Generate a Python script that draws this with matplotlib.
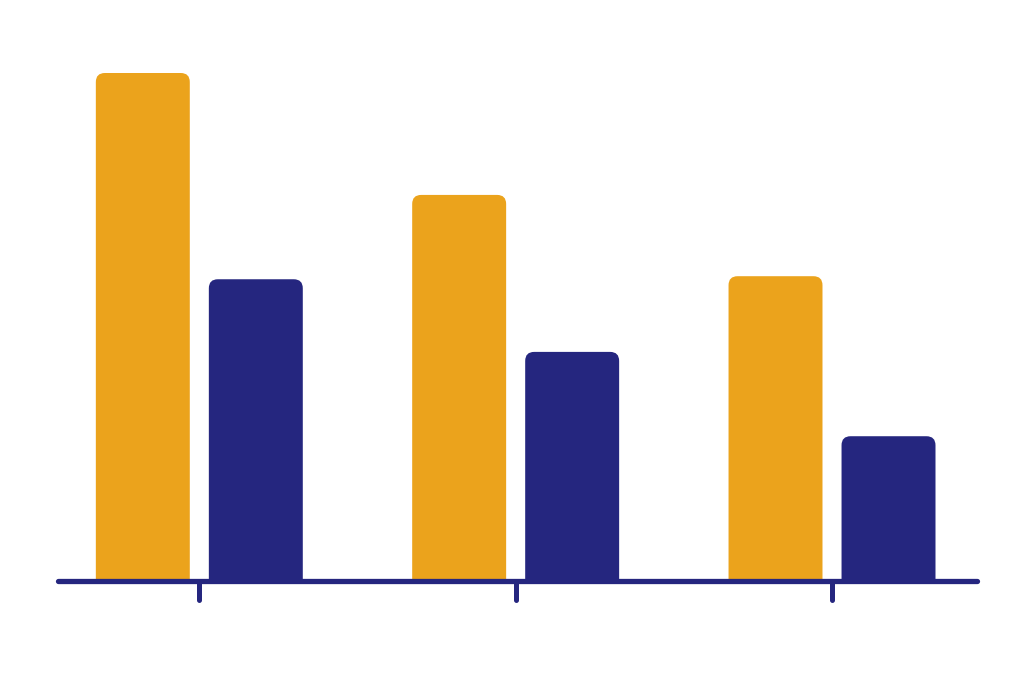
import matplotlib
matplotlib.use("Agg")
import matplotlib.pyplot as plt
from matplotlib.patches import FancyBboxPatch
import numpy as np

# Data (relative heights)
groups = [0, 1, 2]
tick_labels = ["", "", ""]
series_a = [100.0, 76.0, 60.0]   # orange
series_b = [59.4, 45.1, 28.5]    # navy

ORANGE = "#EBA31C"
NAVY = "#25267F"

W, H = 1024, 683
fig = plt.figure(figsize=(W / 100, H / 100), dpi=100)
fig.patch.set_facecolor("white")
left_px, right_px, bottom_px, top_px = 58, 977, 581, 41
ax = fig.add_axes([left_px / W, (H - bottom_px) / H,
                   (right_px - left_px) / W, (bottom_px - top_px) / H])

ax.set_xlim(-0.4467, 2.4583)
ax.set_ylim(0, 106.3)

bar_w = 0.297
off = 0.1786
x = np.array(groups, dtype=float)

bars_a = ax.bar(x - off, series_a, width=bar_w, color=ORANGE)
bars_b = ax.bar(x + off, series_b, width=bar_w, color=NAVY)

fig.canvas.draw()
p0 = ax.transData.transform((0, 0))
p1 = ax.transData.transform((1, 1))
px_x = p1[0] - p0[0]
px_y = p1[1] - p0[1]
aspect = px_x / px_y
r = 9.0 / px_x  # rounding radius in x units

for bars in (bars_a, bars_b):
    for b in bars:
        bx, by = b.get_x(), b.get_y()
        bw, bh = b.get_width(), b.get_height()
        color = b.get_facecolor()
        b.set_visible(False)
        ext = 5.0
        patch = FancyBboxPatch((bx, by - ext), bw, bh + ext,
                               boxstyle=f"round,pad=0,rounding_size={r}",
                               mutation_aspect=aspect,
                               facecolor=color, edgecolor="none",
                               zorder=1)
        ax.add_patch(patch)

for side in ("left", "right", "top"):
    ax.spines[side].set_visible(False)
ax.spines["bottom"].set_color(NAVY)
ax.spines["bottom"].set_linewidth(3.8)
ax.spines["bottom"].set_capstyle("round")
ax.spines["bottom"].set_zorder(3)

ax.set_yticks([])
ax.set_xticks(groups)
ax.set_xticklabels(tick_labels)
ax.tick_params(axis="x", length=0)

tick_len = 19.0 / px_y
for g in groups:
    ax.plot([g, g], [0, -tick_len], color=NAVY, lw=3.6,
            solid_capstyle="round", clip_on=False, zorder=3)

ax.set_facecolor("white")
fig.savefig("out.png", dpi=100, facecolor="white")
